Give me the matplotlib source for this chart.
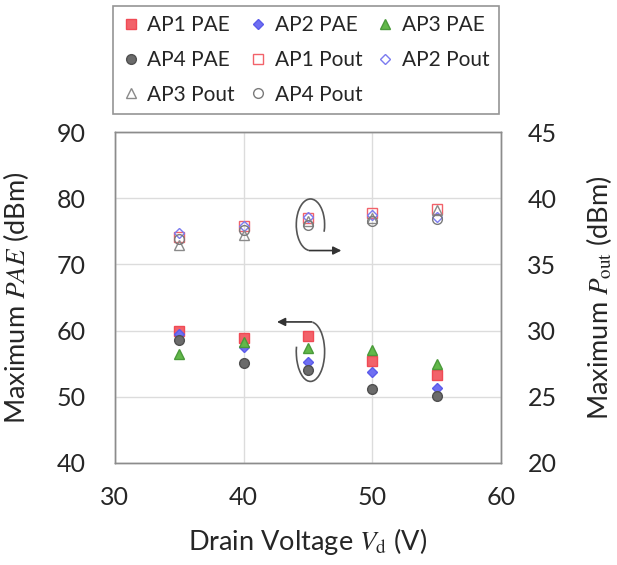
import matplotlib
matplotlib.use("Agg")
import matplotlib.pyplot as plt
from matplotlib.patches import Arc

plt.rcParams["font.family"] = ["Lato", "DejaVu Sans"]
plt.rcParams["mathtext.fontset"] = "stix"

voltage = [35, 40, 45, 50, 55]

# maximum PAE per amplifier (left axis)
pae_ap1 = [59.9, 58.9, 59.1, 55.4, 53.2]
pae_ap2 = [59.5, 57.5, 55.2, 53.7, 51.3]
pae_ap3 = [56.4, 58.2, 57.4, 57.0, 55.0]
pae_ap4 = [58.6, 55.1, 54.1, 51.2, 50.1]

# maximum output power per amplifier (right axis)
pout_ap1 = [37.1, 37.9, 38.5, 38.9, 39.2]
pout_ap2 = [37.4, 37.9, 38.55, 38.75, 38.6]
pout_ap3 = [36.5, 37.2, 38.25, 38.5, 39.1]
pout_ap4 = [36.95, 37.6, 37.95, 38.25, 38.4]

TEXT = "#262626"
EDGE = "#8c8c8c"

fig = plt.figure(figsize=(6.17, 5.65), dpi=100)
ax = fig.add_axes([0.186, 0.181, 0.626, 0.585])
ax2 = ax.twinx()

ms = 7
pae_style = [
    ("AP1 PAE", pae_ap1, dict(marker="s", markerfacecolor="#f2626a", markeredgecolor="#f04a55")),
    ("AP2 PAE", pae_ap2, dict(marker="D", markersize=ms - 1.5, markerfacecolor="#6f6ff2", markeredgecolor="#5b5bea")),
    ("AP3 PAE", pae_ap3, dict(marker="^", markerfacecolor="#62b84a", markeredgecolor="#4a9a3a")),
    ("AP4 PAE", pae_ap4, dict(marker="o", markerfacecolor="#6b6b6b", markeredgecolor="#505050")),
]
pout_style = [
    ("AP1 Pout", pout_ap1, dict(marker="s", markerfacecolor="none", markeredgecolor="#f2626a")),
    ("AP2 Pout", pout_ap2, dict(marker="D", markersize=ms - 1.5, markerfacecolor="none", markeredgecolor="#7b7bf0")),
    ("AP3 Pout", pout_ap3, dict(marker="^", markerfacecolor="none", markeredgecolor="#8a8a8a")),
    ("AP4 Pout", pout_ap4, dict(marker="o", markerfacecolor="none", markeredgecolor="#7a7a7a")),
]

handles = {}
for label, vals, st in pae_style:
    kw = dict(markersize=ms, linestyle="none", markeredgewidth=1.0)
    kw.update(st)
    handles[label], = ax.plot(voltage, vals, label=label, zorder=3, **kw)
for label, vals, st in pout_style:
    kw = dict(markersize=ms, linestyle="none", markeredgewidth=1.0)
    kw.update(st)
    handles[label], = ax2.plot(voltage, vals, label=label, zorder=3, **kw)

ax.set_xlim(30, 60)
ax.set_ylim(40, 90)
ax2.set_ylim(20, 45)
ax.set_xticks([30, 40, 50, 60])
ax.set_yticks([40, 50, 60, 70, 80, 90])
ax2.set_yticks([20, 25, 30, 35, 40, 45])

ax.grid(True, color="#dcdcdc", linewidth=1.0)
ax.set_axisbelow(True)
ax.tick_params(axis="x", length=0, labelsize=18, colors=TEXT, pad=17)
ax.tick_params(axis="y", length=0, labelsize=18, colors=TEXT, pad=21)
ax2.tick_params(axis="y", length=0, labelsize=18, colors=TEXT, pad=19)
for a in (ax, ax2):
    for s in a.spines.values():
        s.set_color(EDGE)
        s.set_linewidth(1.0)

ax.set_xlabel(r"Drain Voltage $V_\mathrm{d}$ (V)", fontsize=19.5, color=TEXT, labelpad=12)
ax.set_ylabel(r"Maximum $PAE$ (dBm)", fontsize=19.5, color=TEXT, labelpad=18)
ax2.set_ylabel(r"Maximum $P_\mathrm{out}$ (dBm)", fontsize=19.5, color=TEXT, labelpad=20)

# curl + arrow marking the Pout group (right axis)
ax.add_patch(Arc((45.2, 76.0), 2.2, 7.8, theta1=-45, theta2=268,
                 color="#555555", linewidth=1.2, zorder=4))
ax.annotate("", xy=(47.6, 72.1), xytext=(45.1, 72.1),
            arrowprops=dict(arrowstyle="-|>", color="#333333", lw=1.2,
                            mutation_scale=12, shrinkA=0, shrinkB=0))

# curl + arrow marking the PAE group (left axis)
ax.add_patch(Arc((45.2, 56.8), 2.2, 9.0, theta1=145, theta2=448,
                 color="#555555", linewidth=1.2, zorder=4))
ax.annotate("", xy=(42.6, 61.3), xytext=(45.3, 61.3),
            arrowprops=dict(arrowstyle="-|>", color="#333333", lw=1.2,
                            mutation_scale=12, shrinkA=0, shrinkB=0))

order = ["AP1 PAE", "AP4 PAE", "AP3 Pout",
         "AP2 PAE", "AP1 Pout", "AP4 Pout",
         "AP3 PAE", "AP2 Pout"]
leg = fig.legend([handles[k] for k in order], order, ncol=3,
                 loc="upper left", bbox_to_anchor=(113 / 617, 1 - 6 / 565),
                 borderaxespad=0, fontsize=15, frameon=True, fancybox=False,
                 handlelength=0.8, handletextpad=0.4, columnspacing=0.7,
                 labelspacing=0.7, borderpad=0.45, labelcolor=TEXT)
leg.get_frame().set_edgecolor("#7a7a7a")
leg.get_frame().set_linewidth(1.2)

fig.savefig("out.png", dpi=100)
